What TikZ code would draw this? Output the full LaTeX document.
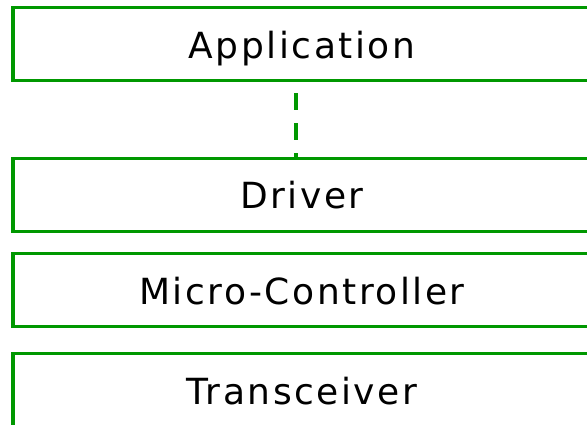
\documentclass[tikz,border=0pt]{standalone}
\usepackage{fontspec}
\usepackage{xcolor}
\usetikzlibrary{positioning}
\newfontfamily\layerfont{DejaVu Sans}[LetterSpace=7]
\definecolor{layergreen}{RGB}{0,152,0}

\begin{document}
\begin{tikzpicture}[
    x=1pt, y=1pt,
    layer/.style={rectangle, draw=layergreen, line width=3.3pt, minimum width=578pt, minimum height=73pt, inner sep=0pt, text height=28pt, text depth=0pt, font=\layerfont\fontsize{36}{40}\selectfont},
    link/.style={draw=layergreen, line width=3.6pt, dash pattern=on 17pt off 13pt, dash phase=19pt},
]
\useasboundingbox (0,0) rectangle (587,-424);

% Application
\node[layer] (app) at (302,-44.25) {Application};

% Driver
\node[layer, below=74.2pt of app] (drv) {Driver};

% Micro-Controller
\node[layer, below=19.2pt of drv] (mcu) {Micro-Controller};

% Transceiver
\node[layer, below=23.5pt of mcu] (trx) {Transceiver};

% Link
\draw[link] ([xshift=-6pt]app.south) -- ([xshift=-6pt]drv.north);

\end{tikzpicture}
\end{document}
